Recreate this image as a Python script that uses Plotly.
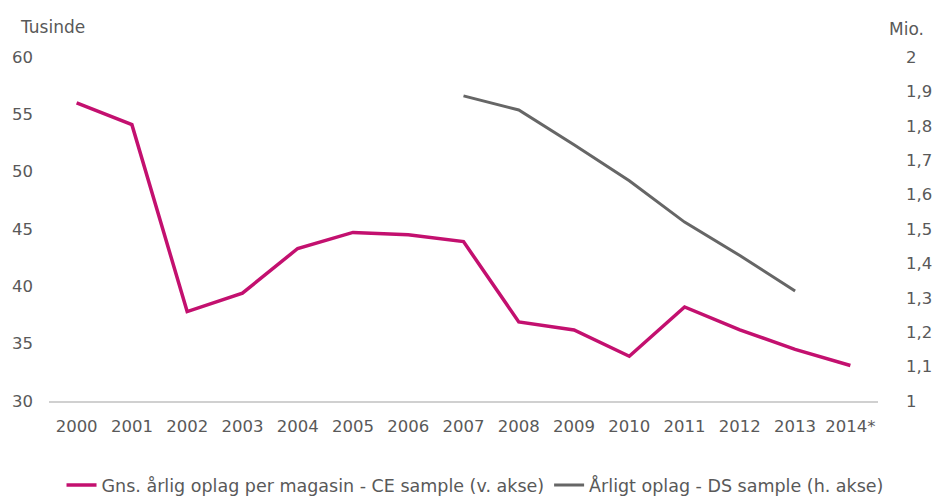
import plotly.graph_objects as go

years = ["2000", "2001", "2002", "2003", "2004", "2005", "2006", "2007",
         "2008", "2009", "2010", "2011", "2012", "2013", "2014*"]
ce_sample = [56.0, 54.1, 37.8, 39.4, 43.3, 44.7, 44.5, 43.9,
             36.9, 36.2, 33.9, 38.2, 36.2, 34.5, 33.1]
ds_years = ["2007", "2008", "2009", "2010", "2011", "2012", "2013"]
ds_sample = [1.887, 1.846, 1.745, 1.640, 1.520, 1.423, 1.320]

left_ticks = [30, 35, 40, 45, 50, 55, 60]
right_ticks = [1.0, 1.1, 1.2, 1.3, 1.4, 1.5, 1.6, 1.7, 1.8, 1.9, 2.0]
right_ticktext = ["1", "1,1", "1,2", "1,3", "1,4", "1,5", "1,6", "1,7", "1,8", "1,9", "2"]

name_ce = "Gns. årlig oplag per magasin - CE sample (v. akse)"
name_ds = "Årligt oplag - DS sample (h. akse)"

PINK = "#C3106F"
GRAY = "#666666"
TXT = "#595959"
FONT = "DejaVu Sans, Verdana, sans-serif"
TICK = 16.5

fig = go.Figure()
fig.add_trace(go.Scatter(x=years, y=ce_sample, mode="lines", name=name_ce,
                         line=dict(color=PINK, width=3.5)))
fig.add_trace(go.Scatter(x=ds_years, y=ds_sample, mode="lines", name=name_ds,
                         yaxis="y2", line=dict(color=GRAY, width=3)))

fig.update_layout(
    width=936, height=498,
    margin=dict(l=49, r=58, t=57, b=97, autoexpand=False),
    paper_bgcolor="white", plot_bgcolor="white",
    font=dict(family=FONT, color=TXT, size=16),
    xaxis=dict(type="category", categoryorder="array", categoryarray=years,
               range=[-0.5, 14.5], showgrid=False, showline=True,
               linecolor="#d0d0d0", linewidth=1.5, ticks="",
               tickfont=dict(size=TICK, color=TXT), ticklabelstandoff=9,
               automargin=False),
    yaxis=dict(range=[30, 60], tickvals=left_ticks, showgrid=False,
               zeroline=False, ticks="", tickfont=dict(size=TICK, color=TXT),
               ticklabelstandoff=15, automargin=False),
    yaxis2=dict(range=[1, 2], overlaying="y", side="right",
                tickvals=right_ticks, ticktext=right_ticktext,
                showgrid=False, zeroline=False, ticks="",
                tickfont=dict(size=TICK, color=TXT), ticklabelstandoff=27,
                automargin=False),
    showlegend=True,
    legend=dict(orientation="h", xref="container", yref="container",
                x=0.5075, xanchor="center", y=0.026, yanchor="middle",
                font=dict(family=FONT, size=17.5, color=TXT),
                tracegroupgap=0, itemwidth=30),
    annotations=[
        dict(text="Tusinde", xref="paper", yref="paper", x=-0.037, y=1.087,
             xanchor="left", yanchor="middle", showarrow=False,
             font=dict(size=17, color=TXT)),
        dict(text="Mio.", xref="paper", yref="paper", x=1.0105, y=1.081,
             xanchor="left", yanchor="middle", showarrow=False,
             font=dict(size=17, color=TXT)),
    ],
)

fig.write_html(
    "out.html",
    config={"displayModeBar": False},
    post_script="document.body.style.margin='0';document.body.style.overflow='hidden';",
)
